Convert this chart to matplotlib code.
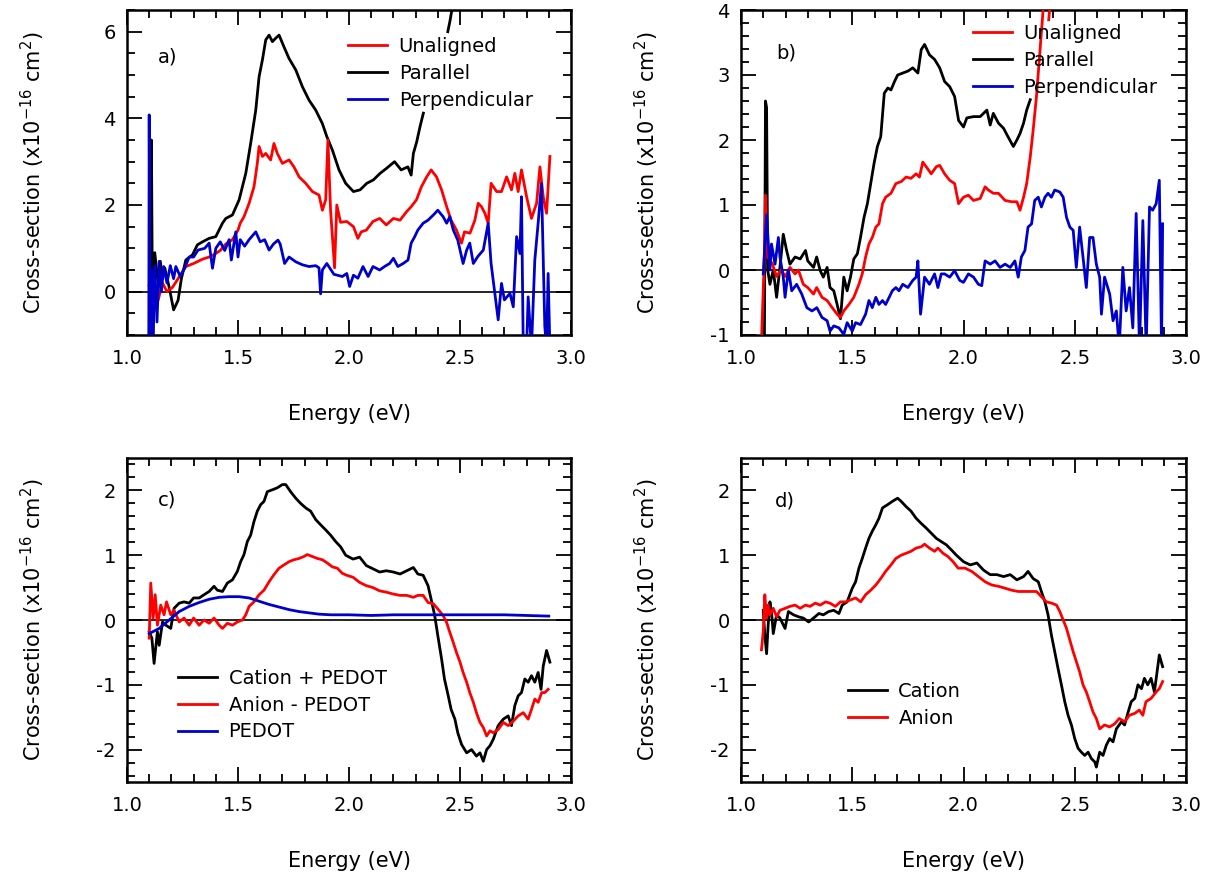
import numpy as np
import matplotlib.pyplot as plt
from matplotlib.ticker import MultipleLocator, FormatStrFormatter

plt.rcParams['font.family'] = 'DejaVu Sans'
plt.rcParams['axes.unicode_minus'] = False

nan = np.nan
RED = '#ff0000'
BLUE = '#0000cc'
BLACK = '#000000'

# each series: rows of (energy in eV, cross-section in 1e-16 cm^2)

# --- a) oriented films
a_parallel = np.array([
    [1.104, -1.5], [1.110, 3.5], [1.116, -1.5], [1.125, 0.9], [1.14, 0.2], [1.15, 0.7],
    [1.16, 0.3], [1.17, 0.55], [1.19, 0.1], [1.21, -0.42], [1.23, -0.2], [1.245, 0.3],
    [1.265, 0.73], [1.295, 0.85], [1.317, 1.08], [1.34, 1.15], [1.37, 1.23], [1.40, 1.27],
    [1.43, 1.58], [1.445, 1.69], [1.475, 1.77], [1.505, 2.12], [1.535, 2.73], [1.557, 3.42],
    [1.58, 4.19], [1.595, 4.96], [1.61, 5.35], [1.625, 5.81], [1.64, 5.92], [1.655, 5.77],
    [1.67, 5.85], [1.685, 5.92], [1.707, 5.65], [1.73, 5.38], [1.76, 5.12], [1.79, 4.73],
    [1.82, 4.42], [1.85, 4.19], [1.88, 3.88], [1.90, 3.58], [1.925, 3.27], [1.955, 2.81],
    [1.985, 2.5], [2.02, 2.31], [2.05, 2.35], [2.08, 2.5], [2.11, 2.58], [2.14, 2.73],
    [2.17, 2.85], [2.205, 3.0], [2.235, 2.81], [2.265, 2.88], [2.28, 2.69], [2.29, 3.19],
    [2.305, 3.46], [2.32, 3.81], [2.335, 4.12], [nan, nan], [2.445, 6.0], [2.455, 6.25],
    [2.47, 6.7],
])

a_unaligned = np.array([
    [1.10, 0.15], [1.12, 0.3], [1.14, -0.2], [1.16, 0.2], [1.18, 0.0], [1.205, 0.1],
    [1.23, 0.3], [1.265, 0.58], [1.30, 0.65], [1.34, 0.75], [1.37, 0.8], [1.39, 0.85],
    [1.42, 0.95], [1.445, 1.1], [1.475, 1.2], [1.50, 1.42], [1.51, 1.58], [1.527, 1.73],
    [1.55, 2.04], [1.572, 2.42], [1.587, 2.96], [1.595, 3.35], [1.61, 3.12], [1.625, 3.19],
    [1.647, 3.04], [1.662, 3.42], [1.677, 3.19], [1.70, 2.96], [1.73, 3.04], [1.752, 2.88],
    [1.775, 2.65], [1.805, 2.5], [1.835, 2.31], [1.865, 2.23], [1.88, 1.88], [1.895, 2.12],
    [1.905, 3.5], [1.917, 1.88], [1.935, 0.55], [1.945, 2.0], [1.962, 1.6], [1.99, 1.62],
    [2.02, 1.5], [2.04, 1.23], [2.055, 1.38], [2.078, 1.42], [2.108, 1.62], [2.138, 1.69],
    [2.168, 1.54], [2.20, 1.69], [2.23, 1.65], [2.26, 1.85], [2.28, 1.96], [2.304, 2.12],
    [2.326, 2.42], [2.35, 2.65], [2.37, 2.81], [2.394, 2.65], [2.417, 2.35], [2.44, 1.96],
    [2.46, 1.65], [2.484, 1.42], [2.507, 1.12], [2.52, 1.38], [2.545, 1.35], [2.567, 1.65],
    [2.582, 2.04], [2.597, 1.96], [2.612, 1.81], [2.627, 1.58], [2.64, 2.5], [2.665, 2.31],
    [2.687, 2.31], [2.71, 2.65], [2.732, 2.35], [2.747, 2.73], [2.762, 2.31], [2.777, 2.81],
    [2.80, 2.19], [2.822, 1.69], [2.845, 2.04], [2.86, 2.88], [2.875, 2.19], [2.89, 1.81],
    [2.905, 3.12],
])

a_perpendicular = np.array([
    [1.098, -1.5], [1.100, 4.08], [1.104, -1.5], [1.11, 0.5], [1.115, -1.5], [1.125, 0.6],
    [1.135, -0.7], [1.145, 0.7], [1.155, 0.0], [1.165, 0.58], [1.18, 0.2], [1.195, 0.6],
    [1.21, 0.3], [1.22, 0.58], [1.24, 0.35], [1.26, 0.55], [1.28, 0.8], [1.30, 0.8],
    [1.32, 0.96], [1.35, 1.0], [1.37, 1.12], [1.385, 0.54], [1.40, 1.0], [1.42, 1.15],
    [1.44, 0.95], [1.46, 1.2], [1.47, 0.73], [1.49, 1.38], [1.50, 0.8], [1.51, 1.2],
    [1.53, 1.05], [1.55, 1.2], [1.58, 1.38], [1.60, 1.15], [1.62, 1.2], [1.64, 0.96],
    [1.66, 1.1], [1.68, 1.19], [1.69, 1.1], [1.71, 0.65], [1.73, 0.8], [1.76, 0.69],
    [1.79, 0.62], [1.82, 0.58], [1.85, 0.6], [1.865, 0.55], [1.872, -0.05], [1.88, 0.5],
    [1.90, 0.65], [1.932, 0.4], [1.97, 0.35], [1.99, 0.42], [2.003, 0.12], [2.02, 0.38],
    [2.04, 0.31], [2.063, 0.58], [2.086, 0.35], [2.108, 0.58], [2.138, 0.5], [2.16, 0.58],
    [2.183, 0.65], [2.20, 0.77], [2.22, 0.58], [2.244, 0.65], [2.266, 0.73], [2.28, 1.12],
    [2.296, 1.27], [2.31, 1.42], [2.334, 1.58], [2.356, 1.65], [2.38, 1.77], [2.40, 1.88],
    [2.424, 1.73], [2.44, 1.58], [2.454, 1.73], [2.47, 1.42], [2.49, 1.19], [2.514, 0.65],
    [2.53, 0.96], [2.544, 1.12], [2.56, 0.65], [2.58, 0.81], [2.605, 0.96], [2.627, 1.58],
    [2.64, 0.65], [2.657, -0.04], [2.672, -0.65], [2.687, 0.19], [2.70, -0.19], [2.725, -0.04],
    [2.74, -0.35], [2.755, 1.27], [2.77, 0.88], [2.777, 2.19], [2.785, -1.3], [2.80, -1.3],
    [2.807, -0.12], [2.822, -1.3], [2.837, 0.73], [2.852, 1.58], [2.867, 2.5], [2.882, -0.8],
    [2.89, -1.3], [2.897, 0.42], [2.905, -1.3],
])

# --- b) oriented films, second sample
b_parallel = np.array([
    [1.105, -1.3], [1.11, 2.6], [1.115, 2.5], [1.12, 0.0], [1.13, -0.22], [1.145, 0.0],
    [1.16, -0.42], [1.175, 0.04], [1.19, 0.55], [1.205, 0.3], [1.22, 0.09], [1.243, 0.2],
    [1.266, 0.17], [1.29, 0.3], [1.30, 0.14], [1.326, 0.04], [1.34, 0.2], [1.356, -0.01],
    [1.37, -0.11], [1.387, 0.04], [1.40, -0.27], [1.417, -0.32], [1.432, -0.53], [1.447, -0.75],
    [1.462, -0.11], [1.477, -0.32], [1.492, -0.11], [1.507, 0.17], [1.523, 0.25], [1.537, 0.5],
    [1.553, 0.81], [1.568, 1.02], [1.583, 1.33], [1.598, 1.64], [1.613, 1.9], [1.628, 2.05],
    [1.644, 2.72], [1.66, 2.8], [1.674, 2.77], [1.69, 2.9], [1.704, 3.0], [1.727, 3.03],
    [1.75, 3.06], [1.772, 3.11], [1.795, 3.03], [1.81, 3.39], [1.825, 3.47], [1.847, 3.31],
    [1.87, 3.24], [1.893, 3.11], [1.915, 2.9], [1.938, 2.82], [1.96, 2.67], [1.978, 2.3],
    [2.0, 2.2], [2.015, 2.34], [2.045, 2.36], [2.075, 2.36], [2.105, 2.46], [2.12, 2.23],
    [2.134, 2.41], [2.157, 2.26], [2.18, 2.18], [2.20, 2.05], [2.224, 1.9], [2.24, 2.0],
    [2.254, 2.1], [2.27, 2.26], [2.284, 2.46], [2.30, 2.62],
])

b_unaligned = np.array([
    [1.09, -1.3], [1.098, -0.5], [1.105, 0.2], [1.11, 1.15], [1.12, 0.2], [1.14, 0.1],
    [1.16, -0.1], [1.18, 0.0], [1.20, -0.1], [1.22, 0.04], [1.243, -0.06], [1.258, 0.0],
    [1.28, -0.22], [1.30, -0.27], [1.326, -0.37], [1.34, -0.27], [1.364, -0.42], [1.387, -0.47],
    [1.41, -0.58], [1.432, -0.68], [1.447, -0.73], [1.462, -0.63], [1.485, -0.53], [1.507, -0.42],
    [1.53, -0.22], [1.545, -0.06], [1.56, 0.2], [1.575, 0.4], [1.59, 0.5], [1.606, 0.66],
    [1.62, 0.71], [1.636, 1.02], [1.65, 1.12], [1.674, 1.18], [1.696, 1.33], [1.72, 1.36],
    [1.742, 1.43], [1.764, 1.41], [1.787, 1.48], [1.802, 1.43], [1.817, 1.66], [1.832, 1.59],
    [1.855, 1.48], [1.878, 1.59], [1.893, 1.61], [1.915, 1.48], [1.938, 1.38], [1.96, 1.33],
    [1.978, 1.02], [2.0, 1.12], [2.022, 1.15], [2.045, 1.07], [2.075, 1.1], [2.097, 1.28],
    [2.112, 1.23], [2.134, 1.18], [2.157, 1.18], [2.187, 1.07], [2.216, 1.05], [2.24, 1.05],
    [2.254, 0.92], [2.27, 1.12], [2.284, 1.33], [2.30, 1.74], [2.313, 2.15], [2.328, 2.67],
    [2.343, 3.34], [2.358, 4.01], [2.365, 4.3], [nan, nan], [2.383, 3.85], [2.395, 4.3],
])

b_perpendicular = np.array([
    [1.10, -0.06], [1.115, 0.85], [1.13, 0.0], [1.137, 0.4], [1.153, 0.09], [1.168, 0.5],
    [1.175, 0.2], [1.19, -0.11], [1.198, -0.42], [1.213, 0.0], [1.228, -0.32], [1.25, -0.22],
    [1.273, -0.37], [1.296, -0.58], [1.319, -0.63], [1.341, -0.58], [1.364, -0.73], [1.387, -0.78],
    [1.40, -0.94], [1.417, -0.86], [1.44, -0.89], [1.462, -0.99], [1.477, -0.81], [1.50, -0.94],
    [1.515, -0.81], [1.537, -0.84], [1.56, -0.68], [1.575, -0.47], [1.59, -0.58], [1.606, -0.42],
    [1.62, -0.53], [1.636, -0.47], [1.65, -0.53], [1.666, -0.42], [1.68, -0.32], [1.696, -0.27],
    [1.71, -0.32], [1.727, -0.22], [1.75, -0.27], [1.772, -0.16], [1.787, -0.11], [1.795, 0.14],
    [1.807, -0.68], [1.825, -0.11], [1.847, -0.22], [1.87, -0.06], [1.885, -0.27], [1.90, -0.06],
    [1.915, -0.06], [1.938, -0.11], [1.96, -0.01], [1.983, -0.16], [2.0, -0.19], [2.022, -0.06],
    [2.045, -0.11], [2.067, -0.22], [2.082, -0.24], [2.097, 0.14], [2.12, 0.09], [2.142, 0.14],
    [2.164, 0.04], [2.187, 0.09], [2.21, 0.04], [2.231, 0.14], [2.246, -0.11], [2.26, 0.2],
    [2.276, 0.3], [2.29, 0.66], [2.306, 0.71], [2.32, 1.07], [2.336, 1.12], [2.35, 0.97],
    [2.366, 1.12], [2.38, 1.18], [2.395, 1.12], [2.41, 1.23], [2.433, 1.2], [2.448, 1.12],
    [2.463, 0.81], [2.478, 0.66], [2.493, 0.61], [2.507, 0.04], [2.522, 0.66], [2.537, 0.2],
    [2.552, -0.27], [2.567, 0.5], [2.582, 0.5], [2.597, 0.09], [2.612, -0.11], [2.62, -0.68],
    [2.634, -0.11], [2.657, -0.37], [2.672, -0.78], [2.687, -0.63], [2.70, -1.2], [2.716, 0.04],
    [2.731, -0.63], [2.746, -0.27], [2.761, -0.89], [2.776, 0.87], [2.791, -1.2], [2.806, 0.76],
    [2.821, -1.2], [2.836, 0.97], [2.85, 0.92], [2.866, 1.02], [2.88, 1.38], [2.89, -1.2],
    [2.895, 0.71],
])

# --- c) polarons with PEDOT contribution
c_cation_pedot = np.array([
    [1.10, -0.18], [1.112, -0.28], [1.122, -0.67], [1.137, -0.18], [1.145, -0.39], [1.16, -0.03],
    [1.175, -0.08], [1.197, -0.13], [1.212, 0.18], [1.235, 0.26], [1.257, 0.28], [1.28, 0.26],
    [1.30, 0.34], [1.325, 0.34], [1.347, 0.39], [1.37, 0.44], [1.392, 0.52], [1.407, 0.46],
    [1.43, 0.44], [1.452, 0.57], [1.475, 0.62], [1.497, 0.75], [1.512, 0.9], [1.527, 1.01],
    [1.542, 1.21], [1.557, 1.31], [1.572, 1.52], [1.587, 1.68], [1.602, 1.78], [1.617, 1.83],
    [1.632, 1.98], [1.655, 2.01], [1.677, 2.04], [1.70, 2.09], [1.715, 2.09], [1.737, 1.98],
    [1.76, 1.88], [1.782, 1.8], [1.805, 1.73], [1.827, 1.68], [1.85, 1.55], [1.872, 1.47],
    [1.895, 1.39], [1.917, 1.31], [1.94, 1.21], [1.962, 1.13], [1.985, 1.0], [2.018, 0.94],
    [2.048, 0.97], [2.078, 0.84], [2.108, 0.79], [2.138, 0.74], [2.168, 0.76], [2.20, 0.74],
    [2.23, 0.71], [2.26, 0.76], [2.29, 0.81], [2.31, 0.71], [2.334, 0.69], [2.356, 0.53],
    [2.37, 0.32], [2.386, 0.07], [2.40, -0.24], [2.417, -0.6], [2.43, -0.91], [2.447, -1.17],
    [2.46, -1.38], [2.477, -1.53], [2.49, -1.74], [2.507, -1.92], [2.53, -2.05], [2.552, -2.0],
    [2.574, -2.1], [2.59, -2.05], [2.605, -2.18], [2.62, -2.0], [2.635, -1.94], [2.65, -1.84],
    [2.672, -1.63], [2.695, -1.53], [2.717, -1.48], [2.732, -1.63], [2.747, -1.32], [2.762, -1.17],
    [2.777, -1.12], [2.792, -0.91], [2.807, -0.96], [2.822, -0.86], [2.837, -0.96], [2.852, -0.81],
    [2.865, -1.07], [2.875, -0.71], [2.89, -0.47], [2.905, -0.65],
])

c_anion_pedot = np.array([
    [1.10, -0.28], [1.107, 0.57], [1.118, 0.03], [1.127, 0.39], [1.137, -0.08], [1.152, 0.23],
    [1.167, 0.08], [1.178, 0.28], [1.197, 0.08], [1.212, 0.15], [1.235, -0.03], [1.257, 0.03],
    [1.28, -0.08], [1.30, 0.03], [1.325, -0.08], [1.347, 0.0], [1.37, -0.05], [1.392, 0.03],
    [1.415, -0.08], [1.43, -0.13], [1.452, -0.05], [1.475, -0.08], [1.497, -0.03], [1.52, 0.0],
    [1.535, 0.08], [1.55, 0.21], [1.572, 0.28], [1.595, 0.39], [1.617, 0.46], [1.64, 0.59],
    [1.662, 0.7], [1.685, 0.8], [1.707, 0.85], [1.73, 0.9], [1.752, 0.93], [1.775, 0.95],
    [1.797, 0.98], [1.812, 1.01], [1.835, 0.98], [1.857, 0.95], [1.88, 0.93], [1.902, 0.88],
    [1.925, 0.82], [1.947, 0.8], [1.97, 0.72], [1.99, 0.69], [2.018, 0.66], [2.048, 0.58],
    [2.078, 0.53], [2.108, 0.5], [2.138, 0.45], [2.168, 0.43], [2.20, 0.4], [2.23, 0.38],
    [2.26, 0.38], [2.29, 0.35], [2.31, 0.38], [2.334, 0.38], [2.356, 0.27], [2.38, 0.25],
    [2.40, 0.17], [2.424, 0.07], [2.44, -0.04], [2.454, -0.19], [2.47, -0.35], [2.484, -0.5],
    [2.50, -0.65], [2.514, -0.81], [2.53, -0.96], [2.544, -1.12], [2.56, -1.27], [2.574, -1.43],
    [2.59, -1.58], [2.605, -1.66], [2.62, -1.79], [2.635, -1.71], [2.65, -1.74], [2.672, -1.69],
    [2.695, -1.58], [2.717, -1.63], [2.74, -1.56], [2.762, -1.48], [2.785, -1.43], [2.807, -1.53],
    [2.822, -1.38], [2.837, -1.22], [2.852, -1.27], [2.868, -1.12], [2.882, -1.12], [2.897, -1.07],
])

c_pedot = np.array([
    [1.10, -0.21], [1.145, -0.13], [1.19, 0.0], [1.235, 0.13], [1.28, 0.21], [1.325, 0.27],
    [1.37, 0.32], [1.415, 0.35], [1.46, 0.36], [1.505, 0.36], [1.55, 0.34], [1.595, 0.29],
    [1.64, 0.24], [1.685, 0.2], [1.73, 0.16], [1.775, 0.13], [1.82, 0.11], [1.865, 0.09],
    [1.92, 0.08], [2.0, 0.08], [2.1, 0.07], [2.2, 0.08], [2.3, 0.08], [2.4, 0.08],
    [2.5, 0.08], [2.6, 0.08], [2.7, 0.08], [2.8, 0.07], [2.9, 0.06],
])

# --- d) polarons, PEDOT removed
d_cation = np.array([
    [1.10, 0.15], [1.107, -0.23], [1.115, -0.52], [1.122, -0.08], [1.13, 0.28], [1.137, 0.13],
    [1.145, -0.21], [1.16, 0.08], [1.175, 0.03], [1.198, -0.13], [1.213, 0.13], [1.236, 0.08],
    [1.258, 0.05], [1.28, 0.03], [1.304, -0.03], [1.326, 0.03], [1.35, 0.1], [1.37, 0.08],
    [1.394, 0.13], [1.417, 0.15], [1.44, 0.1], [1.455, 0.23], [1.477, 0.28], [1.50, 0.49],
    [1.515, 0.59], [1.53, 0.8], [1.545, 0.95], [1.56, 1.11], [1.575, 1.26], [1.59, 1.37],
    [1.606, 1.47], [1.62, 1.57], [1.636, 1.73], [1.659, 1.78], [1.68, 1.83], [1.704, 1.88],
    [1.72, 1.83], [1.742, 1.75], [1.764, 1.68], [1.787, 1.57], [1.81, 1.49], [1.832, 1.42],
    [1.855, 1.34], [1.878, 1.26], [1.90, 1.21], [1.923, 1.16], [1.946, 1.08], [1.968, 1.0],
    [2.0, 0.9], [2.03, 0.85], [2.06, 0.88], [2.09, 0.77], [2.12, 0.7], [2.15, 0.7],
    [2.18, 0.67], [2.21, 0.7], [2.24, 0.62], [2.27, 0.67], [2.29, 0.75], [2.313, 0.64],
    [2.336, 0.59], [2.35, 0.44], [2.366, 0.28], [2.38, 0.08], [2.395, -0.23], [2.41, -0.49],
    [2.425, -0.75], [2.44, -1.0], [2.455, -1.26], [2.47, -1.47], [2.485, -1.62], [2.50, -1.83],
    [2.515, -1.98], [2.53, -2.04], [2.545, -2.09], [2.56, -2.04], [2.575, -2.14], [2.59, -2.19],
    [2.597, -2.27], [2.612, -2.04], [2.627, -2.09], [2.642, -1.93], [2.657, -1.83], [2.672, -1.88],
    [2.687, -1.68], [2.71, -1.57], [2.724, -1.62], [2.74, -1.42], [2.754, -1.26], [2.77, -1.21],
    [2.784, -1.0], [2.80, -1.06], [2.813, -0.9], [2.828, -1.0], [2.843, -0.9], [2.858, -1.11],
    [2.87, -0.8], [2.88, -0.54], [2.895, -0.72],
])

d_anion = np.array([
    [1.092, -0.46], [1.10, -0.18], [1.107, 0.39], [1.115, 0.03], [1.122, 0.23], [1.13, 0.08],
    [1.145, 0.18], [1.16, 0.05], [1.175, 0.15], [1.198, 0.18], [1.22, 0.21], [1.243, 0.23],
    [1.266, 0.18], [1.29, 0.23], [1.31, 0.21], [1.334, 0.26], [1.356, 0.23], [1.38, 0.28],
    [1.40, 0.26], [1.424, 0.21], [1.447, 0.28], [1.47, 0.28], [1.492, 0.31], [1.515, 0.34],
    [1.538, 0.28], [1.56, 0.39], [1.583, 0.46], [1.606, 0.54], [1.628, 0.64], [1.65, 0.75],
    [1.674, 0.85], [1.696, 0.95], [1.72, 1.0], [1.742, 1.03], [1.764, 1.06], [1.787, 1.11],
    [1.81, 1.13], [1.825, 1.17], [1.847, 1.11], [1.87, 1.06], [1.885, 1.11], [1.908, 1.03],
    [1.93, 0.98], [1.953, 0.9], [1.976, 0.8], [2.007, 0.8], [2.037, 0.75], [2.067, 0.67],
    [2.097, 0.59], [2.127, 0.54], [2.157, 0.52], [2.187, 0.49], [2.216, 0.46], [2.246, 0.44],
    [2.276, 0.44], [2.306, 0.44], [2.328, 0.44], [2.35, 0.36], [2.373, 0.28], [2.396, 0.26],
    [2.418, 0.23], [2.433, 0.13], [2.448, 0.0], [2.463, -0.13], [2.478, -0.31], [2.493, -0.49],
    [2.507, -0.64], [2.522, -0.8], [2.537, -1.0], [2.552, -1.11], [2.567, -1.26], [2.582, -1.42],
    [2.597, -1.52], [2.612, -1.68], [2.634, -1.62], [2.657, -1.65], [2.68, -1.6], [2.70, -1.52],
    [2.724, -1.57], [2.746, -1.47], [2.77, -1.44], [2.79, -1.39], [2.806, -1.47], [2.82, -1.26],
    [2.843, -1.21], [2.866, -1.11], [2.88, -1.06], [2.895, -0.95],
])

YLABEL = r'Cross-section (x10$^{\mathregular{-16}}$ cm$^{\mathregular{2}}$)'


def style_axes(ax, ylim, ymajor, yminor, tag, tag_xy):
    ax.set_xlim(1.0, 3.0)
    ax.set_ylim(*ylim)
    ax.xaxis.set_major_locator(MultipleLocator(0.5))
    ax.xaxis.set_minor_locator(MultipleLocator(0.1))
    ax.yaxis.set_major_locator(MultipleLocator(ymajor))
    ax.yaxis.set_minor_locator(MultipleLocator(yminor))
    ax.xaxis.set_major_formatter(FormatStrFormatter('%.1f'))
    ax.yaxis.set_major_formatter(FormatStrFormatter('%d'))
    ax.tick_params(which='both', direction='in', top=True, right=True, width=1.3)
    ax.tick_params(which='major', length=11)
    ax.tick_params(which='minor', length=5.5)
    ax.tick_params(axis='x', pad=10, labelsize=14)
    ax.tick_params(axis='y', pad=8, labelsize=14)
    for sp in ax.spines.values():
        sp.set_linewidth(1.8)
    ax.axhline(0, color='k', lw=1.2, zorder=1)
    ax.set_xlabel('Energy (eV)', fontsize=15)
    ax.set_ylabel(YLABEL, fontsize=15)
    ax.xaxis.set_label_coords(0.5, -0.212)
    ax.yaxis.set_label_coords(-0.18, 0.5)
    ax.text(tag_xy[0], tag_xy[1], tag, transform=ax.transAxes, fontsize=14,
            ha='left', va='center')


def draw(ax, series, legend_xy):
    handles = []
    for data, color, label, z in series:
        line, = ax.plot(data[:, 0], data[:, 1], color=color, lw=2.0, label=label, zorder=z)
        handles.append(line)
    ax.legend(handles=handles, loc='upper left', bbox_to_anchor=legend_xy, frameon=False,
              fontsize=14, borderpad=0, borderaxespad=0, handlelength=2.0,
              handletextpad=0.6, labelspacing=0.4)


fig = plt.figure(figsize=(12.1, 8.81), dpi=100)
W, H = 1210, 881
ax_a = fig.add_axes([127 / W, 1 - 335 / H, 444 / W, 325 / H])
ax_b = fig.add_axes([741 / W, 1 - 335 / H, 445 / W, 325 / H])
ax_c = fig.add_axes([127 / W, 1 - 782 / H, 444 / W, 324 / H])
ax_d = fig.add_axes([741 / W, 1 - 782 / H, 445 / W, 324 / H])

# legend order differs from drawing order (blue last so it sits on top)
draw(ax_a, [(a_unaligned, RED, 'Unaligned', 3), (a_parallel, BLACK, 'Parallel', 2),
            (a_perpendicular, BLUE, 'Perpendicular', 4)], (0.498, 0.917))
style_axes(ax_a, (-1, 6.5), 2, 0.5, 'a)', (0.07, 0.855))

draw(ax_b, [(b_unaligned, RED, 'Unaligned', 3), (b_parallel, BLACK, 'Parallel', 2),
            (b_perpendicular, BLUE, 'Perpendicular', 4)], (0.521, 0.957))
style_axes(ax_b, (-1, 4), 1, 0.2, 'b)', (0.079, 0.868))

draw(ax_c, [(c_cation_pedot, BLACK, 'Cation + PEDOT', 2), (c_anion_pedot, RED, 'Anion - PEDOT', 3),
            (c_pedot, BLUE, 'PEDOT', 4)], (0.115, 0.349))
style_axes(ax_c, (-2.5, 2.5), 1, 0.2, 'c)', (0.07, 0.87))

draw(ax_d, [(d_cation, BLACK, 'Cation', 2), (d_anion, RED, 'Anion', 3)], (0.24, 0.309))
style_axes(ax_d, (-2.5, 2.5), 1, 0.2, 'd)', (0.076, 0.867))

fig.savefig('out.png', dpi=100)
